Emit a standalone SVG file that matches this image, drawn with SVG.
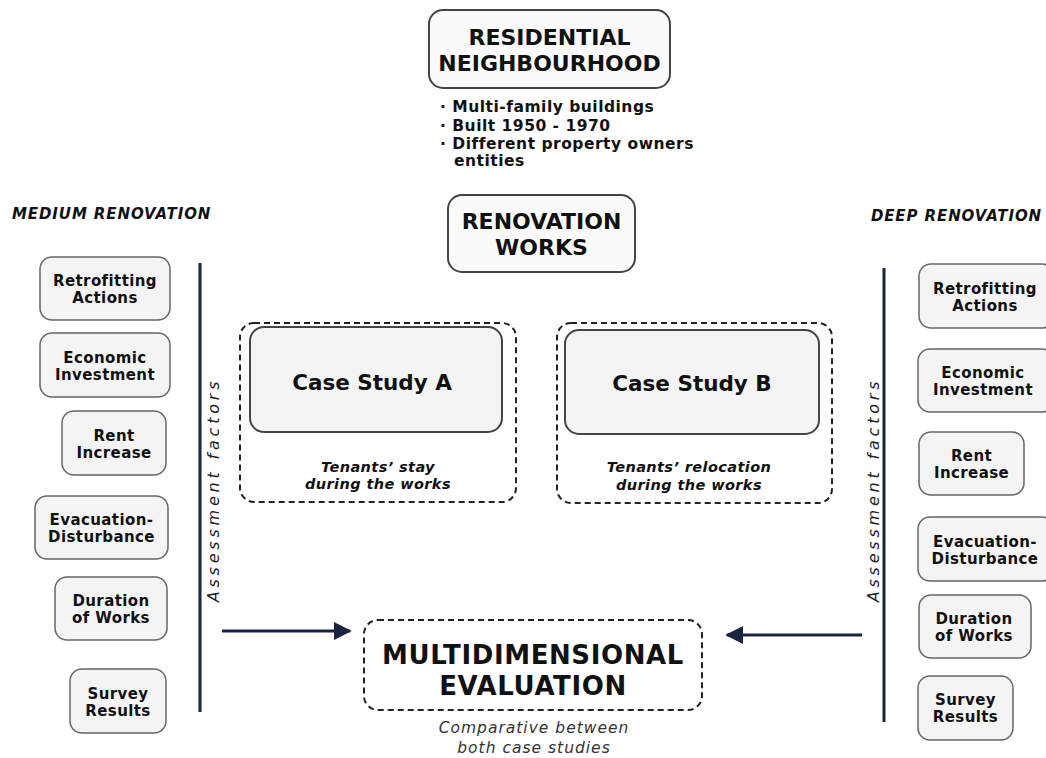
<svg xmlns="http://www.w3.org/2000/svg" width="1046" height="758" viewBox="0 0 1046 758">
<defs>
<style>
.t{font-family:"DejaVu Sans","Verdana",sans-serif;fill:#111;text-anchor:middle}
.b{font-weight:bold}
.i{font-style:italic}
.box{fill:#f4f4f4;stroke:#666;stroke-width:1.5}
.big{fill:#fafafa;stroke:#444;stroke-width:2}
.dash{fill:none;stroke:#222;stroke-width:2;stroke-dasharray:6,4}
.vline{stroke:#1a2440;stroke-width:3}
.f{font-size:15px;font-weight:bold;letter-spacing:0.4px}
</style>
<marker id="ah" viewBox="0 0 10 10" refX="9" refY="5" markerWidth="6" markerHeight="6" orient="auto" markerUnits="strokeWidth">
<path d="M0,0 L10,5 L0,10 z" fill="#1a2440"/>
</marker>
</defs>
<rect width="1046" height="758" fill="#fff"/>

<g id="residential">
<rect class="big" x="429" y="10" width="241" height="78" rx="14"/>
<text class="t b" x="549.5" y="45" font-size="22">RESIDENTIAL</text>
<text class="t b" x="549.5" y="71" font-size="22">NEIGHBOURHOOD</text>
</g>
<g id="bullets">
<text class="t b" x="440" y="112" font-size="15.5" letter-spacing="0.5" style="text-anchor:start">· Multi-family buildings</text>
<text class="t b" x="440" y="131" font-size="15.5" letter-spacing="0.5" style="text-anchor:start">· Built 1950 - 1970</text>
<text class="t b" x="440" y="149" font-size="15.5" letter-spacing="0.5" style="text-anchor:start">· Different property owners</text>
<text class="t b" x="454" y="166" font-size="15.5" letter-spacing="0.5" style="text-anchor:start">entities</text>
</g>
<g id="renovation">
<rect class="big" x="448" y="195" width="187" height="77" rx="14"/>
<text class="t b" x="541.5" y="229" font-size="22">RENOVATION</text>
<text class="t b" x="541.5" y="255" font-size="22">WORKS</text>
</g>

<text class="t b i" x="12" y="219" font-size="15" letter-spacing="0.9" style="text-anchor:start">MEDIUM RENOVATION</text>
<text class="t b i" x="1042" y="221" font-size="15" letter-spacing="0.9" style="text-anchor:end">DEEP RENOVATION</text>

<g id="m1"><rect class="box" x="40" y="257" width="130" height="63" rx="12"/><text class="t f" x="105" y="286">Retrofitting</text><text class="t f" x="105" y="303">Actions</text></g>
<g id="m2"><rect class="box" x="40" y="333" width="130" height="64" rx="12"/><text class="t f" x="105" y="363">Economic</text><text class="t f" x="105" y="380">Investment</text></g>
<g id="m3"><rect class="box" x="62" y="411" width="104" height="64" rx="12"/><text class="t f" x="114" y="441">Rent</text><text class="t f" x="114" y="458">Increase</text></g>
<g id="m4"><rect class="box" x="35" y="496" width="133" height="63" rx="12"/><text class="t f" x="101.5" y="525">Evacuation-</text><text class="t f" x="101.5" y="542">Disturbance</text></g>
<g id="m5"><rect class="box" x="55" y="577" width="112" height="63" rx="12"/><text class="t f" x="111" y="606">Duration</text><text class="t f" x="111" y="623">of Works</text></g>
<g id="m6"><rect class="box" x="70" y="669" width="96" height="64" rx="12"/><text class="t f" x="118" y="699">Survey</text><text class="t f" x="118" y="716">Results</text></g>

<g id="d1"><rect class="box" x="919" y="264" width="135" height="64" rx="12"/><text class="t f" x="985" y="294">Retrofitting</text><text class="t f" x="985" y="311">Actions</text></g>
<g id="d2"><rect class="box" x="918" y="349" width="136" height="63" rx="12"/><text class="t f" x="983" y="378">Economic</text><text class="t f" x="983" y="395">Investment</text></g>
<g id="d3"><rect class="box" x="919" y="432" width="105" height="63" rx="12"/><text class="t f" x="971.5" y="461">Rent</text><text class="t f" x="971.5" y="478">Increase</text></g>
<g id="d4"><rect class="box" x="918" y="517" width="136" height="64" rx="12"/><text class="t f" x="985" y="547">Evacuation-</text><text class="t f" x="985" y="564">Disturbance</text></g>
<g id="d5"><rect class="box" x="919" y="595" width="112" height="63" rx="12"/><text class="t f" x="974" y="624">Duration</text><text class="t f" x="974" y="641">of Works</text></g>
<g id="d6"><rect class="box" x="918" y="676" width="95" height="64" rx="12"/><text class="t f" x="965.5" y="705">Survey</text><text class="t f" x="965.5" y="722">Results</text></g>

<g id="caseA">
<rect class="dash" x="240" y="323" width="276" height="179" rx="14"/>
<rect class="big" x="250" y="327" width="252" height="105" rx="14" style="fill:#f4f4f4"/>
<text class="t b" x="372" y="390" font-size="21.5">Case Study A</text>
<text class="t b i" x="378" y="472" font-size="14.5" letter-spacing="0.4">Tenants’ stay</text>
<text class="t b i" x="378" y="489" font-size="14.5" letter-spacing="0.4">during the works</text>
</g>
<g id="caseB">
<rect class="dash" x="557" y="323" width="275" height="180" rx="14"/>
<rect class="big" x="565" y="330" width="254" height="104" rx="14" style="fill:#f4f4f4"/>
<text class="t b" x="692" y="391" font-size="21.5">Case Study B</text>
<text class="t b i" x="689" y="472" font-size="14.5" letter-spacing="0.4">Tenants’ relocation</text>
<text class="t b i" x="689" y="490" font-size="14.5" letter-spacing="0.4">during the works</text>
</g>

<g id="evaluation">
<rect class="dash" x="364" y="620" width="338" height="90" rx="14"/>
<text class="t b" x="533" y="664" font-size="26" letter-spacing="0.6">MULTIDIMENSIONAL</text>
<text class="t b" x="533" y="695" font-size="26" letter-spacing="0.6">EVALUATION</text>
<text class="t i" x="534" y="733" font-size="15.5" letter-spacing="1" style="fill:#333">Comparative between</text>
<text class="t i" x="534" y="753" font-size="15.5" letter-spacing="1" style="fill:#333">both case studies</text>
</g>

<g id="labels">
<text class="t i" transform="translate(219,490) rotate(-90)" font-size="16" letter-spacing="3.8" style="fill:#222">Assessment factors</text>
<text class="t i" transform="translate(879,490) rotate(-90)" font-size="16" letter-spacing="3.8" style="fill:#222">Assessment factors</text>
</g>

<g id="connectors">
<line class="vline" x1="200" y1="263" x2="200" y2="712"/>
<line class="vline" x1="884" y1="268" x2="884" y2="722"/>
<line x1="222" y1="631" x2="350" y2="631" stroke="#1a2440" stroke-width="3" marker-end="url(#ah)"/>
<line x1="862" y1="635" x2="727" y2="635" stroke="#1a2440" stroke-width="3" marker-end="url(#ah)"/>
</g>
</svg>
